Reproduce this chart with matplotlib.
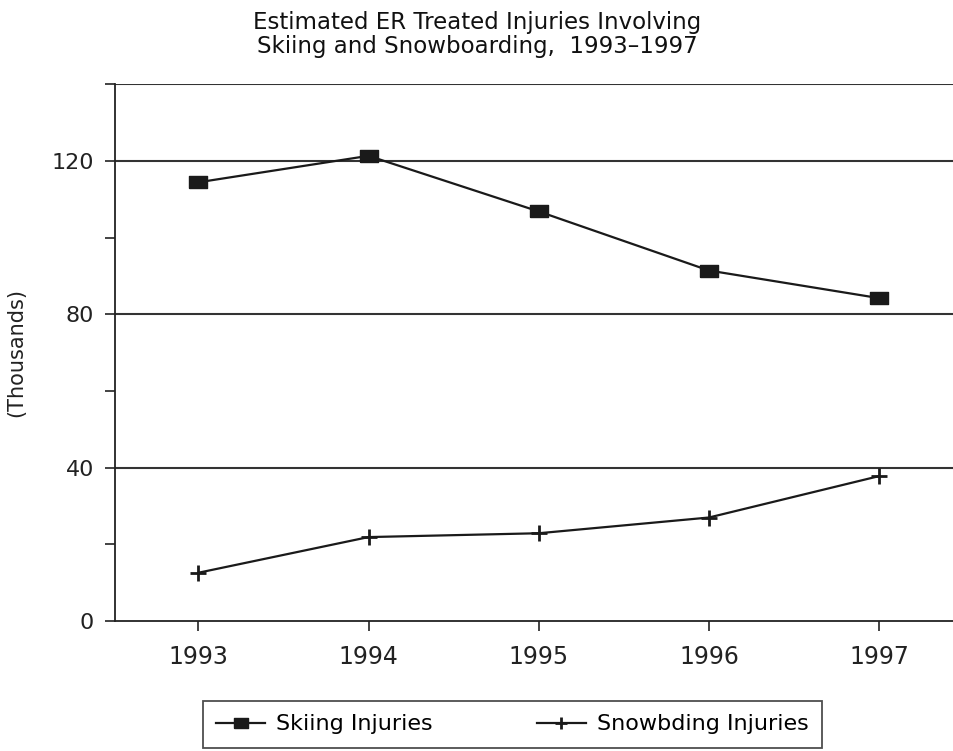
import matplotlib
matplotlib.use("Agg")
import matplotlib.pyplot as plt
from matplotlib.ticker import MultipleLocator

years = [1993, 1994, 1995, 1996, 1997]
skiing = [114.4, 121.3, 106.8, 91.4, 84.2]
snowboarding = [12.6, 21.9, 22.9, 27.0, 37.8]
title = "Estimated ER Treated Injuries Involving\nSkiing and Snowboarding,  1993\u20131997"

fig = plt.figure(figsize=(9.54, 7.51), dpi=100)
ax = fig.add_axes([0.1205, 0.173, 0.8795, 0.715])

rect = [(-1.5, -1), (1.5, -1), (1.5, 1), (-1.5, 1), (-1.5, -1)]
ax.plot(years, skiing, color='#1a1a1a', lw=1.6, marker=rect, ms=13,
        label='Skiing Injuries', zorder=3)
ax.plot(years, snowboarding, color='#1a1a1a', lw=1.6, marker='+', ms=11,
        mew=2, label='Snowbding Injuries', zorder=3)

ax.set_xlim(1992.51, 1997.44)
ax.set_ylim(0, 140)
ax.set_xticks(years)
ax.set_yticks([0, 40, 80, 120])
ax.yaxis.set_minor_locator(MultipleLocator(20))
for y in [40, 80, 120, 140]:
    ax.axhline(y, color='#333333', lw=1.5, zorder=1)

ax.spines['right'].set_visible(False)
ax.spines['top'].set_visible(False)
for s in ['left', 'bottom']:
    ax.spines[s].set_linewidth(1.3)
    ax.spines[s].set_color('#222222')
ax.tick_params(axis='both', which='major', length=7, width=1.2, labelsize=16,
               colors='#222222', pad=8)
ax.tick_params(axis='y', which='minor', length=7, width=1.2, colors='#222222')
ax.tick_params(axis='x', pad=10, labelsize=17)
ax.set_ylabel('(Thousands)', fontsize=15, labelpad=18, color='#222222')

fig.suptitle(title, y=0.985, fontsize=16.5, color='#111111', linespacing=1.05)

leg = fig.legend(loc='upper left', bbox_to_anchor=(203 / 954, -0.0334, 619 / 954, 0.1),
                 mode='expand', ncol=2, fontsize=16,
                 frameon=True, fancybox=False, edgecolor='#222222',
                 handlelength=2.2, handletextpad=0.5, borderpad=0.6,
                 borderaxespad=0.0, markerscale=0.75)
leg.get_frame().set_linewidth(1.3)

fig.savefig('out.png', dpi=100)
